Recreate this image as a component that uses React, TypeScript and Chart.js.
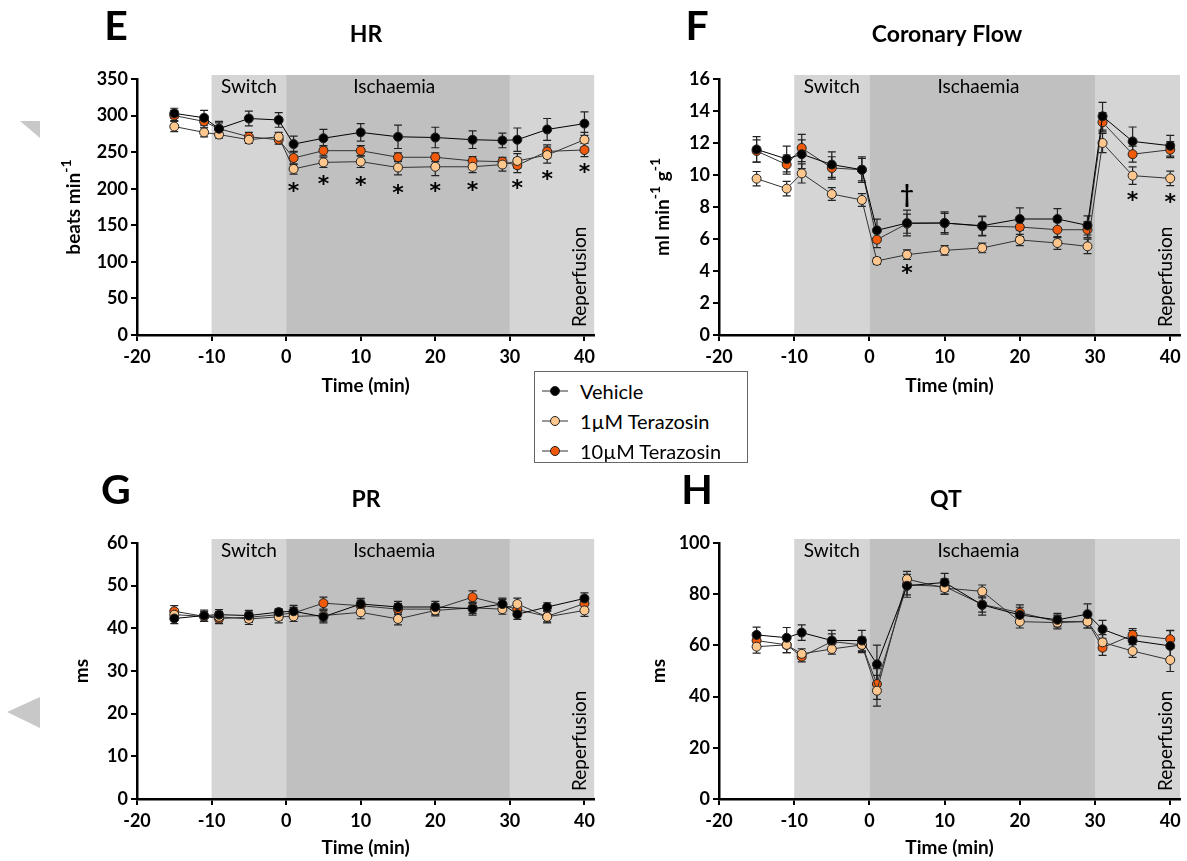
import React, { useEffect, useRef } from 'react';
import { Chart, registerables } from 'chart.js';

Chart.register(...registerables);

// ---------------- DATA ----------------
const timePoints = [-15, -11, -9, -5, -1, 1, 5, 10, 15, 20, 25, 29, 31, 35, 40];
const xTicks = [-20, -10, 0, 10, 20, 30, 40];
const seriesNames = ['Vehicle', '1\u00b5M Terazosin', '10\u00b5M Terazosin'];

// HR (beats min-1)
const hrTicks = [0, 50, 100, 150, 200, 250, 300, 350];
const hrVehicle = [303, 297, 282, 296, 294, 261, 269, 277, 271, 270, 267, 266, 267, 281, 289];
const hrVehicleErr = [7, 10, 10, 10, 10, 11, 12, 12, 16, 14, 12, 10, 16, 15, 16];
const hr1uM = [285, 277, 274, 267, 271, 227, 236, 237, 229, 230, 230, 233, 238, 246, 267];
const hr1uMErr = [7, 6, 5, 5, 6, 7, 7, 8, 10, 12, 8, 9, 10, 11, 10];
const hr10uM = [300, 292, 282, 271, 267, 242, 252, 252, 243, 243, 238, 237, 232, 251, 253];
const hr10uMErr = [7, 8, 8, 6, 6, 9, 7, 7, 6, 6, 6, 6, 10, 9, 9];
const hrNoteText = ['*', '*', '*', '*', '*', '*', '*', '*', '*'];
const hrNoteX = [1, 5, 10, 15, 20, 25, 31, 35, 40];
const hrNoteY = [203, 212, 210, 200, 203, 204, 207, 219, 228];

// Coronary flow (ml min-1 g-1)
const flowTicks = [0, 2, 4, 6, 8, 10, 12, 14, 16];
const flowVehicle = [11.6, 11.0, 11.3, 10.65, 10.33, 6.54, 7.0, 7.0, 6.83, 7.25, 7.25, 6.85, 13.67, 12.1, 11.83];
const flowVehicleErr = [0.8, 0.8, 0.9, 0.8, 0.8, 0.7, 0.8, 0.7, 0.6, 0.7, 0.65, 0.6, 0.87, 0.9, 0.65];
const flow1uM = [9.77, 9.15, 10.1, 8.81, 8.44, 4.63, 5.02, 5.29, 5.44, 5.94, 5.75, 5.54, 12.0, 9.96, 9.79];
const flow1uMErr = [0.45, 0.45, 0.6, 0.4, 0.4, 0.2, 0.3, 0.3, 0.3, 0.35, 0.4, 0.45, 0.6, 0.55, 0.45];
const flow10uM = [11.5, 10.65, 11.69, 10.44, 10.33, 5.96, 6.96, 7.0, 6.8, 6.75, 6.58, 6.58, 13.3, 11.3, 11.58];
const flow10uMErr = [0.7, 0.6, 0.85, 0.7, 0.7, 0.5, 0.6, 0.6, 0.6, 0.6, 0.5, 0.5, 0.6, 0.5, 0.5];
const flowNoteText = ['\u2020', '*', '*', '*'];
const flowNoteX = [5, 5, 35, 40];
const flowNoteY = [8.7, 4.1, 8.7, 8.55];

// PR (ms)
const prTicks = [0, 10, 20, 30, 40, 50, 60];
const prVehicle = [42.3, 43.0, 43.2, 43.0, 43.8, 44.0, 42.7, 45.7, 45.0, 45.0, 44.6, 45.7, 43.3, 45.0, 47.0];
const prVehicleErr = [1.2, 1.3, 1.2, 1.2, 0.8, 1.4, 1.4, 1.3, 1.3, 1.3, 1.5, 1.4, 1.2, 1.0, 1.3];
const pr1uM = [43.2, 42.8, 42.7, 42.2, 42.7, 42.8, 43.0, 43.75, 42.2, 44.2, 44.8, 44.5, 45.7, 42.7, 44.2];
const pr1uMErr = [1.3, 1.2, 1.2, 1.3, 1.4, 1.2, 1.3, 1.5, 1.4, 1.3, 1.3, 1.2, 1.4, 1.4, 1.4];
const pr10uM = [44.0, 42.8, 42.3, 42.6, 43.2, 43.6, 45.9, 45.3, 44.5, 44.5, 47.3, 45.5, 44.4, 42.8, 45.8];
const pr10uMErr = [1.3, 1.2, 1.2, 1.2, 1.2, 1.3, 1.4, 1.3, 1.3, 1.3, 1.5, 1.3, 1.3, 1.3, 1.3];

// QT (ms)
const qtTicks = [0, 20, 40, 60, 80, 100];
const qtVehicle = [64.1, 63.0, 65.0, 61.9, 61.9, 52.6, 83.3, 84.6, 75.8, 71.9, 70.0, 72.2, 66.3, 61.9, 59.8];
const qtVehicleErr = [3, 4, 3, 4, 4, 7.5, 4.5, 3.5, 4, 3, 2.5, 4, 3.5, 4, 6];
const qt1uM = [59.5, 60.2, 56.7, 58.6, 60.2, 42.3, 85.9, 82.4, 81.1, 69.3, 68.9, 69.3, 61.2, 57.8, 54.3];
const qt1uMErr = [2.5, 3, 2, 2, 2.5, 6, 3, 2.5, 2.5, 2.5, 2.5, 2.5, 3, 2.5, 4.5];
const qt10uM = [61.9, 60.2, 55.6, 61.5, 60.2, 44.9, 83.7, 83.0, 76.0, 72.8, 69.3, 69.3, 59.1, 64.1, 62.4];
const qt10uMErr = [3, 3, 2, 3, 3, 6, 4, 3, 3, 3, 2.5, 2.5, 3, 2.5, 3.5];

// ---------------- STYLE ----------------
const FONT = 'Lato, "Open Sans", sans-serif';
const pointFills = ['#000000', '#fdc78e', '#f05a0a'];
const lineColors = ['#000000', '#333333', '#333333'];
const LIGHT = '#d5d5d5';
const DARK = '#c0c0c0';

type Part = { t: string; sup?: boolean };

type PanelDef = {
  letter: string;
  title: string;
  yTitle: Part[];
  yTicks: number[];
  yMax: number;
  vals: number[][];
  errs: number[][];
  noteText: string[];
  noteX: number[];
  noteY: number[];
  left: number; top: number; width: number; height: number;
  yWidth: number; padTop: number; padRight: number; xHeight: number; titlePadBottom: number;
  letterX: number; letterY: number; titleX: number; titleY: number; yTitleX: number;
};

const panels: PanelDef[] = [
  {
    letter: 'E', title: 'HR', yTitle: [{ t: 'beats min' }, { t: '-1', sup: true }],
    yTicks: hrTicks, yMax: 350,
    vals: [hrVehicle, hr1uM, hr10uM], errs: [hrVehicleErr, hr1uMErr, hr10uMErr],
    noteText: hrNoteText, noteX: hrNoteX, noteY: hrNoteY,
    left: 0, top: 0, width: 600, height: 400,
    yWidth: 137, padTop: 79, padRight: 3, xHeight: 65, titlePadBottom: 3,
    letterX: 116, letterY: 27, titleX: 366, titleY: 35, yTitleX: 74,
  },
  {
    letter: 'F', title: 'Coronary Flow', yTitle: [{ t: 'ml min' }, { t: '-1', sup: true }, { t: ' g' }, { t: '-1', sup: true }],
    yTicks: flowTicks, yMax: 16,
    vals: [flowVehicle, flow1uM, flow10uM], errs: [flowVehicleErr, flow1uMErr, flow10uMErr],
    noteText: flowNoteText, noteX: flowNoteX, noteY: flowNoteY,
    left: 600, top: 0, width: 587, height: 400,
    yWidth: 119, padTop: 79, padRight: 7, xHeight: 65, titlePadBottom: 3,
    letterX: 97, letterY: 27, titleX: 347, titleY: 35, yTitleX: 63,
  },
  {
    letter: 'G', title: 'PR', yTitle: [{ t: 'ms' }],
    yTicks: prTicks, yMax: 60,
    vals: [prVehicle, pr1uM, pr10uM], errs: [prVehicleErr, pr1uMErr, pr10uMErr],
    noteText: [], noteX: [], noteY: [],
    left: 0, top: 460, width: 600, height: 401,
    yWidth: 137, padTop: 83, padRight: 3, xHeight: 62, titlePadBottom: 2,
    letterX: 116, letterY: 31, titleX: 366, titleY: 40, yTitleX: 82,
  },
  {
    letter: 'H', title: 'QT', yTitle: [{ t: 'ms' }],
    yTicks: qtTicks, yMax: 100,
    vals: [qtVehicle, qt1uM, qt10uM], errs: [qtVehicleErr, qt1uMErr, qt10uMErr],
    noteText: [], noteX: [], noteY: [],
    left: 600, top: 460, width: 587, height: 401,
    yWidth: 119, padTop: 83, padRight: 7, xHeight: 62, titlePadBottom: 2,
    letterX: 97, letterY: 31, titleX: 346, titleY: 40, yTitleX: 59,
  },
];

function centerTextInk(ctx: CanvasRenderingContext2D, text: string, x: number, y: number) {
  ctx.textAlign = 'center';
  ctx.textBaseline = 'alphabetic';
  const m = ctx.measureText(text);
  const off = (m.actualBoundingBoxAscent - m.actualBoundingBoxDescent) / 2;
  ctx.fillText(text, x, y + off);
}

function Panel({ def }: { def: PanelDef }) {
  const ref = useRef<HTMLCanvasElement | null>(null);
  useEffect(() => {
    const canvas = ref.current;
    if (!canvas) return;

    const decor = {
      id: 'decor',
      beforeDraw(chart: any) {
        const { ctx, chartArea, scales } = chart;
        const xs = scales.x;
        const top = chartArea.top - 4;
        const bottom = chartArea.bottom;
        const pm10 = xs.getPixelForValue(-10);
        const p0 = xs.getPixelForValue(0);
        const p30 = xs.getPixelForValue(30);
        ctx.save();
        ctx.fillStyle = LIGHT;
        ctx.fillRect(pm10, top, p0 - pm10, bottom - top);
        ctx.fillRect(p30, top, chartArea.right - p30, bottom - top);
        ctx.fillStyle = DARK;
        ctx.fillRect(p0, top, p30 - p0, bottom - top);
        ctx.fillStyle = '#000';
        ctx.font = `19px ${FONT}`;
        ctx.textAlign = 'center';
        ctx.textBaseline = 'middle';
        ctx.fillText('Switch', xs.getPixelForValue(-5), chartArea.top + 8);
        ctx.fillText('Ischaemia', xs.getPixelForValue(14.5), chartArea.top + 8);
        ctx.translate(chartArea.right - 14, chartArea.bottom - 8);
        ctx.rotate(-Math.PI / 2);
        ctx.textAlign = 'left';
        ctx.fillText('Reperfusion', 0, 0);
        ctx.restore();
      },
      beforeDatasetsDraw(chart: any) {
        const { ctx, scales } = chart;
        const ys = scales.y;
        ctx.save();
        ctx.strokeStyle = '#222';
        ctx.lineWidth = 1.2;
        for (let i = def.vals.length - 1; i >= 0; i--) {
          const meta = chart.getDatasetMeta(i);
          def.vals[i].forEach((v, j) => {
            const e = def.errs[i][j];
            const pt = meta.data[j];
            if (!pt) return;
            const x = pt.x;
            const y1 = ys.getPixelForValue(v + e);
            const y2 = ys.getPixelForValue(v - e);
            ctx.beginPath();
            ctx.moveTo(x, y1); ctx.lineTo(x, y2);
            ctx.moveTo(x - 4, y1); ctx.lineTo(x + 4, y1);
            ctx.moveTo(x - 4, y2); ctx.lineTo(x + 4, y2);
            ctx.stroke();
          });
        }
        ctx.restore();
      },
      afterDatasetsDraw(chart: any) {
        const { ctx, scales } = chart;
        ctx.save();
        ctx.fillStyle = '#000';
        def.noteText.forEach((t, k) => {
          ctx.font = t === '*' ? 'bold 22px "DejaVu Sans", sans-serif' : `bold 24px ${FONT}`;
          centerTextInk(ctx, t, scales.x.getPixelForValue(def.noteX[k]), scales.y.getPixelForValue(def.noteY[k]));
        });
        ctx.restore();
      },
      afterDraw(chart: any) {
        const { ctx, chartArea } = chart;
        ctx.save();
        ctx.fillStyle = '#000';
        ctx.textAlign = 'center';
        ctx.textBaseline = 'middle';
        ctx.font = `bold 41px ${FONT}`;
        ctx.fillText(def.letter, def.letterX, def.letterY);
        ctx.font = `bold 23px ${FONT}`;
        ctx.fillText(def.title, def.titleX, def.titleY);
        // y title with superscripts, rotated
        const mainFont = `bold 19px ${FONT}`;
        const supFont = `bold 14px ${FONT}`;
        const cy = (chartArea.top + chartArea.bottom) / 2;
        ctx.translate(def.yTitleX, cy);
        ctx.rotate(-Math.PI / 2);
        let total = 0;
        const widths = def.yTitle.map((p) => {
          ctx.font = p.sup ? supFont : mainFont;
          const w = ctx.measureText(p.t).width;
          total += w;
          return w;
        });
        let x = -total / 2;
        ctx.textAlign = 'left';
        def.yTitle.forEach((p, i) => {
          ctx.font = p.sup ? supFont : mainFont;
          ctx.fillText(p.t, x, p.sup ? -8 : 0);
          x += widths[i];
        });
        ctx.restore();
      },
    };

    const chart = new Chart(canvas, {
      type: 'line',
      data: {
        datasets: def.vals.map((vals, i) => ({
          label: seriesNames[i],
          data: timePoints.map((t, j) => ({ x: t, y: vals[j] })),
          borderColor: lineColors[i],
          borderWidth: 1,
          pointRadius: 4.5,
          pointBackgroundColor: pointFills[i],
          pointBorderColor: '#222',
          pointBorderWidth: 1,
          tension: 0,
        })),
      },
      options: {
        responsive: false,
        animation: false,
        events: [],
        layout: { padding: { top: def.padTop, right: def.padRight, left: 0, bottom: 0 } },
        plugins: { legend: { display: false }, tooltip: { enabled: false } },
        scales: {
          x: {
            type: 'linear',
            min: -20,
            max: 41.3,
            afterBuildTicks: (s: any) => { s.ticks = xTicks.map((v) => ({ value: v })); },
            afterFit: (s: any) => { s.height = def.xHeight; },
            grid: { drawOnChartArea: false, drawTicks: true, tickLength: 6, color: '#000', lineWidth: 2 },
            border: { display: true, color: '#000', width: 2.5 },
            ticks: { color: '#000', font: { family: FONT, size: 18, weight: 'bold' }, padding: 5, maxRotation: 0 },
            title: { display: true, text: 'Time (min)', color: '#000', font: { family: FONT, size: 19, weight: 'bold' }, padding: { top: 0, bottom: def.titlePadBottom } },
          },
          y: {
            type: 'linear',
            min: 0,
            max: def.yMax,
            afterBuildTicks: (s: any) => { s.ticks = def.yTicks.map((v) => ({ value: v })); },
            afterFit: (s: any) => { s.width = def.yWidth; },
            grid: { drawOnChartArea: false, drawTicks: true, tickLength: 6, color: '#000', lineWidth: 2 },
            border: { display: true, color: '#000', width: 2.5 },
            ticks: { color: '#000', font: { family: FONT, size: 18, weight: 'bold' }, padding: 3 },
          },
        },
      },
      plugins: [decor],
    } as any);
    return () => chart.destroy();
  }, [def]);

  return (
    <canvas
      ref={ref}
      width={def.width}
      height={def.height}
      style={{ position: 'absolute', left: def.left, top: def.top, width: def.width, height: def.height }}
    />
  );
}

function LegendMarker({ fill }: { fill: string }) {
  return (
    <svg width={30} height={14} style={{ position: 'absolute', left: 6, top: 8 }}>
      <line x1={1} y1={7} x2={27} y2={7} stroke="#333" strokeWidth={1} />
      <circle cx={14} cy={7} r={4.5} fill={fill} stroke="#222" strokeWidth={1} />
    </svg>
  );
}

export default function App() {
  return (
    <div style={{ position: 'absolute', left: 0, top: 0, width: 1187, height: 861, background: '#fff', overflow: 'hidden' }}>
      {panels.map((p) => (
        <Panel key={p.letter} def={p} />
      ))}
      <svg width={1187} height={861} style={{ position: 'absolute', left: 0, top: 0, pointerEvents: 'none' }}>
        <polygon points="20,121 40,121 40,138" fill="#c8c8c8" />
        <polygon points="7,712 40,697 40,728" fill="#c8c8c8" />
      </svg>
      <div
        style={{
          position: 'absolute', left: 534, top: 371, width: 214, height: 92, boxSizing: 'border-box',
          border: '1px solid #666', background: '#fff', fontFamily: FONT, fontSize: 20, color: '#000',
        }}
      >
        {seriesNames.map((n, i) => (
          <div key={n} style={{ position: 'absolute', left: 0, top: 4 + i * 30, height: 30, width: '100%' }}>
            <LegendMarker fill={pointFills[i]} />
            <span style={{ position: 'absolute', left: 45, top: 0, lineHeight: '30px', whiteSpace: 'nowrap' }}>{n}</span>
          </div>
        ))}
      </div>
    </div>
  );
}
